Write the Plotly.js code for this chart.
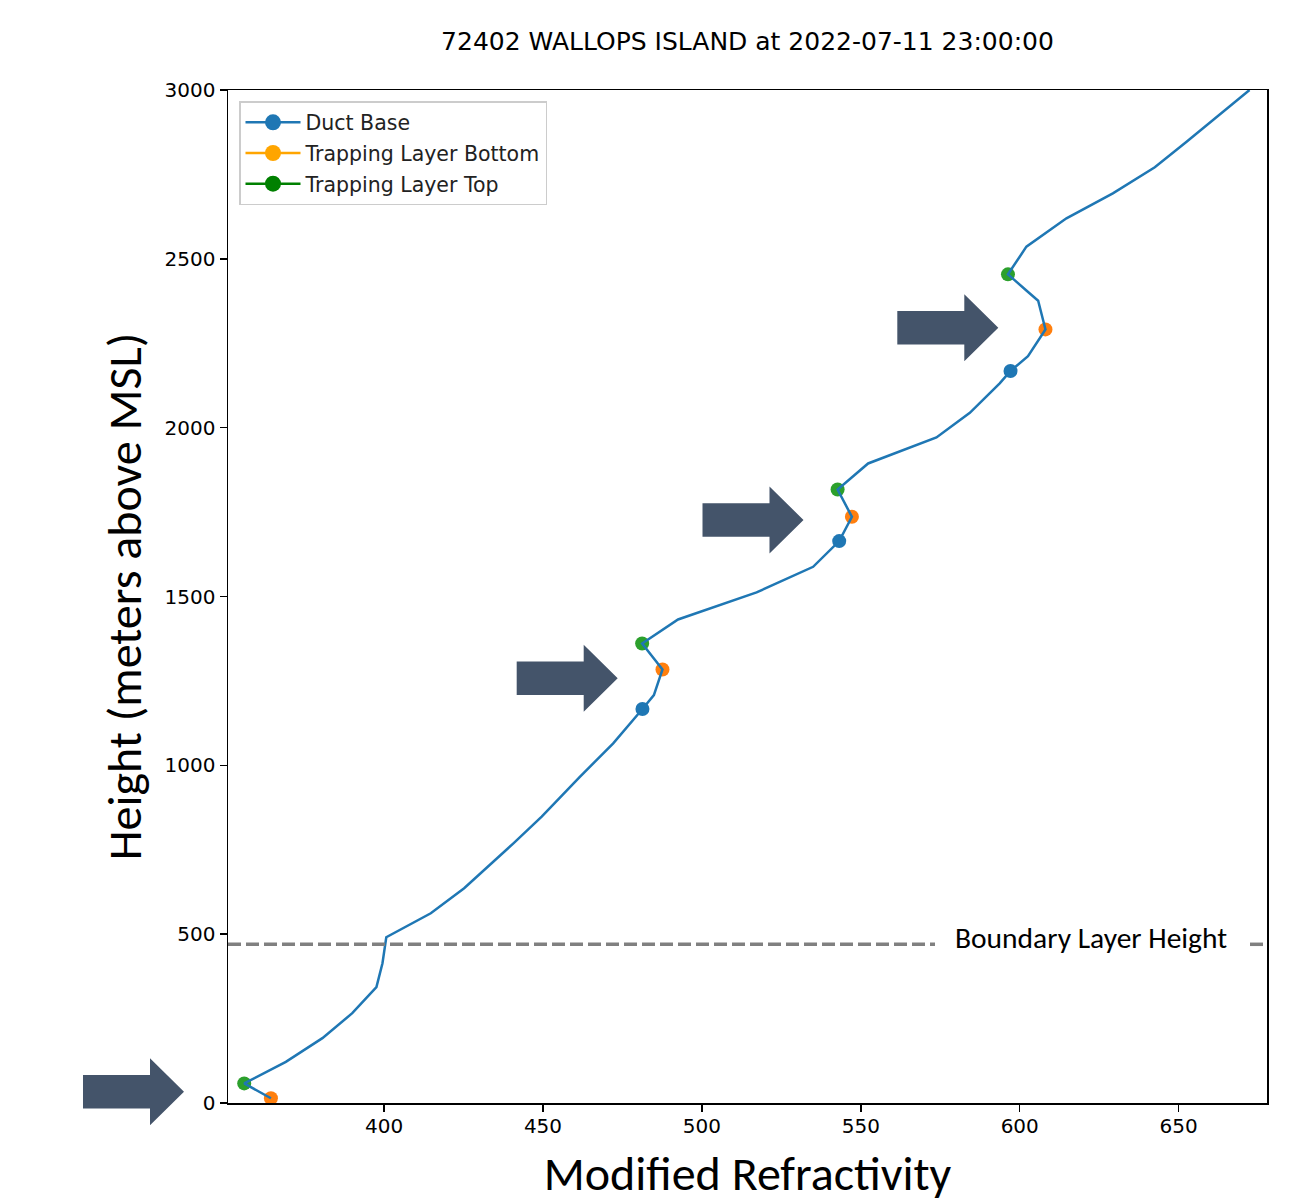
<!DOCTYPE html>
<html>
<head>
<meta charset="utf-8">
<script src="https://cdn.plot.ly/plotly-3.0.1.min.js"></script>
<style>html,body{margin:0;padding:0;background:#fff;}#chart{width:1292px;height:1203px;}</style>
</head>
<body>
<div id="chart"></div>
<script>
// ---- Data ----
const profileN = [364.4, 356.0, 369.1, 380.6, 390.0, 397.6, 399.5, 400.7, 414.7, 425.2, 440.7, 449.6, 461.6, 472.1, 481.3, 484.9, 487.6, 481.2, 492.5, 517.2, 535.0, 543.2, 547.2, 542.7, 552.3, 573.8, 584.3, 593.7, 597.1, 602.6, 608.1, 605.8, 602.0, 596.3, 602.1, 614.7, 629.3, 642.5, 652.4, 672.3];
const profileH = [14, 58, 122, 192, 266, 343, 414, 491, 562, 636, 769, 848, 966, 1065, 1167, 1208, 1284, 1361, 1432, 1512, 1588, 1664, 1736, 1817, 1894, 1971, 2044, 2131, 2168, 2212, 2291, 2376, 2407, 2454, 2536, 2620, 2694, 2771, 2846, 3000];

const ductBaseN = [481.3, 543.2, 597.1];
const ductBaseH = [1167, 1664, 2168];
const trapBottomN = [364.4, 487.6, 547.2, 608.1];
const trapBottomH = [14, 1284, 1736, 2291];
const trapTopN = [356.0, 481.2, 542.7, 596.3];
const trapTopH = [58, 1361, 1817, 2454];

const boundaryLayerHeight = 470;
const legendNames = ["Duct Base", "Trapping Layer Bottom", "Trapping Layer Top"];
const xTicks = [400, 450, 500, 550, 600, 650];
const yTicks = [0, 500, 1000, 1500, 2000, 2500, 3000];
const titleText = "72402 WALLOPS ISLAND at 2022-07-11 23:00:00";

// ---- Layout geometry ----
const W = 1292, H = 1203;
const M = {l: 228, r: 25, t: 90, b: 100};
const plotW = W - M.l - M.r, plotH = H - M.t - M.b;
const px2paperX = px => (px - M.l) / plotW;
const px2paperY = py => (H - M.b - py) / plotH;

// Decorative block arrows (slide annotations), apex positions in page pixels
const arrowApex = [[184, 1091.7], [617.7, 678.3], [803.5, 520], [998.3, 327.7]];
const arrowDims = {len: 101, headLen: 34, bodyHalf: 16.7, headHalf: 33.5};
function arrowPath(ax, ay) {
  const d = arrowDims;
  const pts = [
    [ax - d.len, ay - d.bodyHalf], [ax - d.headLen, ay - d.bodyHalf], [ax - d.headLen, ay - d.headHalf],
    [ax, ay], [ax - d.headLen, ay + d.headHalf], [ax - d.headLen, ay + d.bodyHalf], [ax - d.len, ay + d.bodyHalf]
  ];
  return pts.map((p, i) => (i === 0 ? 'M' : 'L') + px2paperX(p[0]).toFixed(5) + ',' + px2paperY(p[1]).toFixed(5)).join(' ') + ' Z';
}

const baseFont = 'DejaVu Sans, sans-serif';
const slideFont = 'Carlito, Calibri, Lato, sans-serif';

const traces = [
  {x: ductBaseN, y: ductBaseH, mode: 'markers', marker: {color: '#1f77b4', size: 14}, showlegend: false},
  {x: trapBottomN, y: trapBottomH, mode: 'markers', marker: {color: '#ff7f0e', size: 14}, showlegend: false},
  {x: trapTopN, y: trapTopH, mode: 'markers', marker: {color: '#2ca02c', size: 14}, showlegend: false},
  {x: profileN, y: profileH, mode: 'lines', line: {color: '#1f77b4', width: 2.5}, showlegend: false},
  {x: [null], y: [null], mode: 'lines+markers', name: legendNames[0], legendgroup: 'a', line: {color: '#1f77b4', width: 2.5}, marker: {color: '#1f77b4', size: 16}},
  {x: [null], y: [null], mode: 'lines+markers', name: legendNames[1], legendgroup: 'b', line: {color: '#FFA500', width: 2.5}, marker: {color: '#FFA500', size: 16}},
  {x: [null], y: [null], mode: 'lines+markers', name: legendNames[2], legendgroup: 'c', line: {color: '#008000', width: 2.5}, marker: {color: '#008000', size: 16}}
];

const shapes = [
  {type: 'line', xref: 'paper', yref: 'y', x0: 0, x1: px2paperX(935), y0: boundaryLayerHeight, y1: boundaryLayerHeight,
   line: {color: '#808080', width: 3.5, dash: '13px,5px'}},
  {type: 'line', xref: 'paper', yref: 'y', x0: px2paperX(1250), x1: 1, y0: boundaryLayerHeight, y1: boundaryLayerHeight,
   line: {color: '#808080', width: 3.5, dash: '13px,5px'}}
].concat(arrowApex.map(a => ({
  type: 'path', xref: 'paper', yref: 'paper', path: arrowPath(a[0], a[1]),
  fillcolor: '#44546A', line: {width: 0}, layer: 'above'
})));

const layout = {
  width: W, height: H,
  margin: M,
  paper_bgcolor: '#fff', plot_bgcolor: '#fff',
  font: {family: baseFont, size: 20, color: '#000'},
  title: {text: titleText, font: {family: baseFont, size: 25, color: '#000'},
          x: px2paperX(747.5), xref: 'paper', xanchor: 'center', y: 1 - 41 / H, yref: 'container', yanchor: 'middle'},
  xaxis: {
    range: [350.9, 677.8], tickvals: xTicks, ticks: 'outside', ticklen: 7, tickwidth: 1.5, tickcolor: '#000',
    showline: true, linecolor: '#000', linewidth: 1.5, mirror: true, showgrid: false, zeroline: false,
    tickfont: {family: baseFont, size: 20, color: '#000'}, ticklabelstandoff: -3,
    title: {text: 'Modified Refractivity', font: {family: slideFont, size: 48, color: '#000'}, standoff: 23}
  },
  yaxis: {
    range: [0, 3000], tickvals: yTicks, ticks: 'outside', ticklen: 7, tickwidth: 1.5, tickcolor: '#000',
    showline: true, linecolor: '#000', linewidth: 1.5, mirror: true, showgrid: false, zeroline: false,
    tickfont: {family: baseFont, size: 20, color: '#000'},
    title: {text: 'Height (meters above MSL)', font: {family: slideFont, size: 48, color: '#000'}, standoff: 8}
  },
  legend: {
    x: px2paperX(239), y: px2paperY(101), xanchor: 'left', yanchor: 'top',
    bgcolor: 'rgba(255,255,255,0.85)', bordercolor: '#cccccc', borderwidth: 1.5,
    font: {family: baseFont, size: 20.5, color: '#222'}, tracegroupgap: 1, traceorder: 'grouped',
    itemwidth: 55
  },
  annotations: [
    {text: 'Boundary Layer Height', xref: 'paper', yref: 'paper', x: px2paperX(1091), y: px2paperY(938),
     xanchor: 'center', yanchor: 'middle', showarrow: false, font: {family: slideFont, size: 29.5, color: '#000'}}
  ],
  shapes: shapes,
  showlegend: true
};

Plotly.newPlot('chart', traces, layout, {displayModeBar: false, staticPlot: true});
</script>
</body>
</html>
